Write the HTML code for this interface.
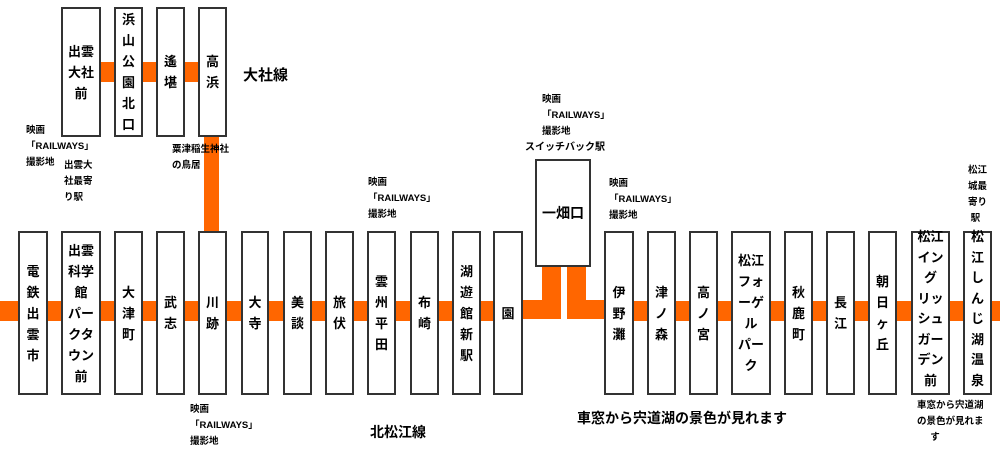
<!DOCTYPE html>
<html><head><meta charset="utf-8"><style>
body{margin:0;width:1000px;height:454px;background:#fff;position:relative;overflow:hidden;font-family:"Liberation Sans","Noto Sans CJK JP",sans-serif;color:#000}
.b{position:absolute;border:2px solid #333;background:#fff;box-sizing:border-box;display:flex;align-items:center;justify-content:center;text-align:center;font-weight:bold;font-size:13px;line-height:21px}
.b span{position:relative;top:-6px}
.o{position:absolute;background:#ff6600}
.t{position:absolute;font-size:9.5px;line-height:16px;font-weight:bold;white-space:nowrap}
.L{position:absolute;font-size:14px;font-weight:bold;white-space:nowrap}
</style></head><body>
<!-- orange lines -->
<div class="o" style="left:0;top:301px;width:522px;height:20px"></div>
<div class="o" style="left:604px;top:301px;width:396px;height:20px"></div>
<div class="o" style="left:100px;top:62px;width:100px;height:20px"></div>
<div class="o" style="left:204px;top:134px;width:15px;height:100px"></div>
<div class="o" style="left:520px;top:300px;width:41px;height:19px"></div>
<div class="o" style="left:542px;top:264px;width:19px;height:55px"></div>
<div class="o" style="left:567px;top:264px;width:19px;height:55px"></div>
<div class="o" style="left:567px;top:300px;width:39px;height:19px"></div>
<!-- top boxes -->
<div class="b" style="left:61px;top:7px;width:40px;height:130px">出雲<br>大社<br>前</div>
<div class="b" style="left:114px;top:7px;width:29px;height:130px">浜<br>山<br>公<br>園<br>北<br>口</div>
<div class="b" style="left:156px;top:7px;width:29px;height:130px">遙<br>堪</div>
<div class="b" style="left:198px;top:7px;width:29px;height:130px">高<br>浜</div>
<!-- main boxes -->
<div class="b" style="left:18px;top:231px;width:30px;height:164px">電<br>鉄<br>出<br>雲<br>市</div>
<div class="b" style="left:61px;top:231px;width:40px;height:164px">出雲<br>科学<br>館<br>パー<br>クタ<br>ウン<br>前</div>
<div class="b" style="left:114px;top:231px;width:29px;height:164px">大<br>津<br>町</div>
<div class="b" style="left:156px;top:231px;width:29px;height:164px">武<br>志</div>
<div class="b" style="left:198px;top:231px;width:29px;height:164px">川<br>跡</div>
<div class="b" style="left:241px;top:231px;width:28px;height:164px">大<br>寺</div>
<div class="b" style="left:283px;top:231px;width:29px;height:164px">美<br>談</div>
<div class="b" style="left:325px;top:231px;width:29px;height:164px">旅<br>伏</div>
<div class="b" style="left:367px;top:231px;width:29px;height:164px">雲<br>州<br>平<br>田</div>
<div class="b" style="left:410px;top:231px;width:29px;height:164px">布<br>崎</div>
<div class="b" style="left:452px;top:231px;width:29px;height:164px">湖<br>遊<br>館<br>新<br>駅</div>
<div class="b" style="left:493px;top:231px;width:30px;height:164px">園</div>
<div class="b" style="left:535px;top:159px;width:56px;height:108px;font-size:14px">一畑口</div>
<div class="b" style="left:604px;top:231px;width:30px;height:164px">伊<br>野<br>灘</div>
<div class="b" style="left:647px;top:231px;width:29px;height:164px">津<br>ノ<br>森</div>
<div class="b" style="left:689px;top:231px;width:29px;height:164px">高<br>ノ<br>宮</div>
<div class="b" style="left:731px;top:231px;width:40px;height:164px">松江<br>フォ<br>ーゲ<br>ル<br>パー<br>ク</div>
<div class="b" style="left:784px;top:231px;width:29px;height:164px">秋<br>鹿<br>町</div>
<div class="b" style="left:826px;top:231px;width:29px;height:164px">長<br>江</div>
<div class="b" style="left:868px;top:231px;width:29px;height:164px">朝<br>日<br>ヶ<br>丘</div>
<div class="b" style="left:911px;top:231px;width:39px;height:164px;align-items:flex-start;line-height:20.5px"><span>松江<br>イン<br>グ<br>リッ<br>シュ<br>ガー<br>デン<br>前</span></div>
<div class="b" style="left:963px;top:231px;width:29px;height:164px;align-items:flex-start;line-height:20.5px"><span>松<br>江<br>し<br>ん<br>じ<br>湖<br>温<br>泉</span></div>
<!-- labels -->
<div class="L" style="left:243px;top:64px;font-size:15px">大社線</div>
<div class="L" style="left:370px;top:422px">北松江線</div>
<div class="L" style="left:577px;top:408px">車窓から宍道湖の景色が見れます</div>
<div class="t" style="left:26px;top:123px">映画<br>「RAILWAYS」<br>撮影地</div>
<div class="t" style="left:64px;top:158px">出雲大<br>社最寄<br>り駅</div>
<div class="t" style="left:172px;top:142px">粟津稲生神社<br>の鳥居</div>
<div class="t" style="left:190px;top:402px">映画<br>「RAILWAYS」<br>撮影地</div>
<div class="t" style="left:368px;top:175px">映画<br>「RAILWAYS」<br>撮影地</div>
<div class="t" style="left:542px;top:92px">映画<br>「RAILWAYS」<br>撮影地</div>
<div class="t" style="left:525px;top:140px;font-size:10px">スイッチバック駅</div>
<div class="t" style="left:609px;top:176px">映画<br>「RAILWAYS」<br>撮影地</div>
<div class="t" style="left:968px;top:163px">松江<br>城最<br>寄り<br>&nbsp;駅</div>
<div class="t" style="left:917px;top:398px">車窓から宍道湖<br>の景色が見れま<br>&nbsp;&nbsp;&nbsp;&nbsp;&nbsp;す</div>
</body></html>
